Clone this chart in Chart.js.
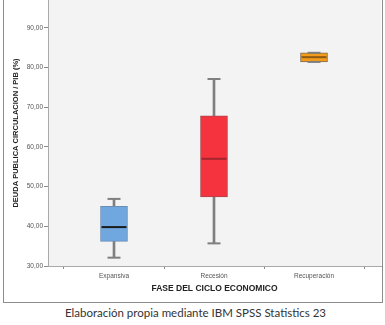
<!DOCTYPE html>
<html>
<head>
<meta charset="utf-8">
<script src="https://cdn.jsdelivr.net/npm/chart.js@4.4.1/dist/chart.umd.min.js"></script>
<style>
  html, body { margin: 0; padding: 0; background: #fff; }
  body { width: 385px; height: 325px; overflow: hidden; position: relative; }
  #frame { position: absolute; left: 3px; top: -2px; width: 380px; height: 305px;
           border: 1px solid #8c8c8c; box-sizing: border-box; }
  #plot { position: absolute; left: 0; top: 0; }
  #caption { position: absolute; left: 3px; top: 305px; width: 385px; text-align: center;
             font-family: Lato, "Open Sans", sans-serif; font-size: 11.5px; color: #333; line-height: 16px; }
</style>
</head>
<body>
<div id="frame"></div>
<canvas id="plot" width="385" height="300"></canvas>
<div id="caption">Elaboración propia mediante IBM SPSS Statistics 23</div>
<script>
// Fase del ciclo económico y resumen de cinco números de deuda pública / PIB (%)
const categories   = ['Expansiva', 'Recesión', 'Recuperación'];
const whiskerLow   = [32.1, 35.7, 81.4];
const q1           = [36.2, 47.4, 81.4];
const median       = [39.8, 57.0, 82.6];
const q3           = [45.0, 67.8, 83.7];
const whiskerHigh  = [46.9, 77.1, 83.7];
const yTicks       = [30, 40, 50, 60, 70, 80, 90];

const boxFill   = ['#6fa7de', '#f5333e', '#f39b1a'];
const boxEdge   = ['#6a8db6', '#a8474c', '#7d6a52'];
const medianCol = ['#1b1b1b', '#a3262d', '#8c5a12'];

const pos = categories.map((_, i) => i + 1);

const plotBackground = {
  id: 'plotBackground',
  beforeDraw(chart) {
    const { ctx, chartArea: a } = chart;
    ctx.save();
    ctx.fillStyle = '#f3f3f3';
    ctx.fillRect(a.left, a.top, a.right - a.left, a.bottom - a.top);
    ctx.restore();
  }
};

new Chart(document.getElementById('plot'), {
  data: {
    datasets: [
      { // whisker stems
        type: 'bar', order: 4, grouped: false, barThickness: 2,
        backgroundColor: '#7f7f7f', borderWidth: 0,
        data: pos.map((x, i) => ({ x, y: [whiskerLow[i], whiskerHigh[i]] }))
      },
      { // interquartile boxes
        type: 'bar', order: 3, grouped: false, barThickness: 27,
        backgroundColor: boxFill, borderColor: boxEdge, borderWidth: 1, borderSkipped: false,
        data: pos.map((x, i) => ({ x, y: [q1[i], q3[i]] }))
      },
      { // whisker caps
        type: 'line', order: 2, showLine: false,
        pointStyle: 'line', pointRadius: 6.5, pointBorderWidth: 2, pointBorderColor: '#7f7f7f',
        data: pos.flatMap((x, i) => [{ x, y: whiskerLow[i] }, { x, y: whiskerHigh[i] }])
      },
      { // medians
        type: 'line', order: 1, showLine: false,
        pointStyle: 'line', pointRadius: 12.5, pointBorderWidth: 2, pointBorderColor: medianCol,
        data: pos.map((x, i) => ({ x, y: median[i] }))
      }
    ]
  },
  options: {
    responsive: false,
    animation: false,
    devicePixelRatio: 1,
    layout: { autoPadding: false, padding: { left: 0, right: 4, top: 0, bottom: 0 } },
    plugins: { legend: { display: false }, tooltip: { enabled: false } },
    scales: {
      x: {
        type: 'linear', min: 0.34, max: 3.67, offset: false, grace: 0,
        afterBuildTicks(s) { s.ticks = pos.map(v => ({ value: v })); },
        afterFit(s) { s.height = 34; s.paddingLeft = 0; s.paddingRight = 0; },
        grid: { drawOnChartArea: false, drawTicks: true, tickLength: 3, color: '#8a8a8a' },
        border: { display: true, color: '#a9a9a9', width: 1 },
        ticks: {
          autoSkip: false, maxRotation: 0, padding: 3, color: '#555',
          font: { family: 'Liberation Sans', size: 6.5 },
          callback: v => categories[v - 1]
        },
        title: {
          display: true, text: 'FASE DEL CICLO ECONOMICO', color: '#222',
          font: { family: 'Liberation Sans', size: 8.5, weight: 'bold' },
          padding: { top: 0, bottom: 6 }
        }
      },
      y: {
        type: 'linear', min: 30, max: 97, offset: false, grace: 0,
        afterBuildTicks(s) { s.ticks = yTicks.map(v => ({ value: v })); },
        afterFit(s) { s.width = 48; s.paddingTop = 0; s.paddingBottom = 0; },
        grid: { drawOnChartArea: false, drawTicks: true, tickLength: 4, color: '#8a8a8a' },
        border: { display: true, color: '#a9a9a9', width: 1 },
        ticks: {
          padding: 1, color: '#555',
          font: { family: 'Liberation Sans', size: 6.5 },
          callback: v => v.toFixed(2).replace('.', ',')
        },
        title: {
          display: true, text: 'DEUDA PUBLICA CIRCULACION / PIB (%)', color: '#222',
          font: { family: 'Liberation Sans', size: 7.5, weight: 'bold' },
          padding: { top: 11, bottom: 0 }
        }
      }
    }
  },
  plugins: [plotBackground]
});
</script>
</body>
</html>
